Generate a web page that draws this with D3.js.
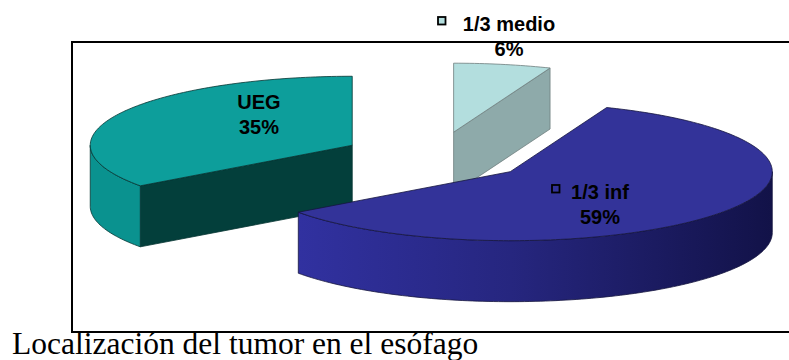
<!DOCTYPE html>
<html>
<head>
<meta charset="utf-8">
<script src="https://cdn.jsdelivr.net/npm/d3@7/dist/d3.min.js"></script>
<style>
  html, body { margin: 0; padding: 0; background: #fff; }
  svg { display: block; }
</style>
</head>
<body>
<svg id="chart" width="789" height="360"></svg>
<script>
// ---- data ----
const categories = ["1/3 medio", "1/3 inf", "UEG"];
const values = [6, 59, 35];
const pctLabels = ["6%", "59%", "35%"];
const title = "Localización del tumor en el esófago";

// ---- styles / layout ----
const topColors  = ["#B3DEDE", "#333399", "#0D9E9B"];
const cutColors  = ["#8EAAAA", "#1E1E70", "#033F3B"];
const wallColors = ["#8EAAAA", "#2E2E98", "#0A928F"];
const strokeColors = ["#6F7D7D", "#15153F", "#063532"];
const labelPos = [
  {x: 509, y: 31, markerX: 437},
  {x: 600, y: 199, markerX: 551},
  {x: 259, y: 109, markerX: null}
];

const cx = 436, cy = 156.5, rx = 262, ry = 69, depth = 61, explode = 94;
const k = ry / rx;

const svg = d3.select("#chart");
const defs = svg.append("defs");
const grad = defs.append("linearGradient").attr("id", "blueWall")
  .attr("gradientUnits", "userSpaceOnUse").attr("x1", 298).attr("x2", 772).attr("y1", 0).attr("y2", 0);
grad.append("stop").attr("offset", 0).attr("stop-color", "#3131A0");
grad.append("stop").attr("offset", 0.45).attr("stop-color", "#26267F");
grad.append("stop").attr("offset", 1).attr("stop-color", "#121248");

// frame
svg.append("rect").attr("x", 72).attr("y", 42).attr("width", 760).attr("height", 290)
  .attr("fill", "none").attr("stroke", "#000").attr("stroke-width", 2);

const pie = d3.pie().sort(null).value(d => d)(values);
const line = d3.line();

function pt(c, a, dz) { return [c[0] + rx * Math.sin(a), c[1] - ry * Math.cos(a) + (dz || 0)]; }
function arcPts(c, a0, a1, dz) {
  const n = Math.max(2, Math.ceil(Math.abs(a1 - a0) / 0.02));
  return d3.range(n + 1).map(i => pt(c, a0 + (a1 - a0) * i / n, dz));
}

const slices = pie.map((p, i) => {
  const m = (p.startAngle + p.endAngle) / 2;
  const c = [cx + explode * Math.sin(m), cy - explode * k * Math.cos(m)];
  return {p, i, c};
});

// paint order: back slices first
const order = [0, 2, 1];
order.forEach(i => {
  const {p, c} = slices[i];
  const g = svg.append("g");
  const a0 = p.startAngle, a1 = p.endAngle;
  const sc = strokeColors[i];
  // visible radial cut faces
  [a0, a1].forEach((a, j) => {
    const ndy = j === 0 ? -Math.sin(a) : Math.sin(a);
    if (ndy > 1e-6) {
      const e = pt(c, a);
      const poly = [c, e, [e[0], e[1] + depth], [c[0], c[1] + depth]];
      g.append("path").attr("d", line(poly) + "Z")
        .attr("fill", cutColors[i]).attr("stroke", sc).attr("stroke-width", 0.8).attr("stroke-linejoin", "round");
    }
  });
  // outer wall on the front half
  const w0 = Math.max(a0, Math.PI / 2), w1 = Math.min(a1, 3 * Math.PI / 2);
  if (w1 > w0) {
    const top = arcPts(c, w0, w1, 0);
    const bot = arcPts(c, w1, w0, depth);
    g.append("path").attr("d", line(top.concat(bot)) + "Z")
      .attr("fill", i === 1 ? "url(#blueWall)" : wallColors[i])
      .attr("stroke", sc).attr("stroke-width", 0.8).attr("stroke-linejoin", "round");
  }
  // top face
  const topPts = [c].concat(arcPts(c, a0, a1, 0));
  g.append("path").attr("d", line(topPts) + "Z")
    .attr("fill", topColors[i]).attr("stroke", sc).attr("stroke-width", 0.8).attr("stroke-linejoin", "round");
});

// labels
const font = "Liberation Sans, Arial, sans-serif";
labelPos.forEach((lp, i) => {
  svg.append("text").attr("x", lp.x).attr("y", lp.y)
    .attr("text-anchor", "middle").attr("font-family", font).attr("font-weight", "bold")
    .attr("font-size", 20).attr("fill", "#000").text(categories[i]);
  svg.append("text").attr("x", lp.x).attr("y", lp.y + 24.5)
    .attr("text-anchor", "middle").attr("font-family", font).attr("font-weight", "bold")
    .attr("font-size", 20).attr("fill", "#000").text(pctLabels[i]);
  if (lp.markerX !== null) {
    svg.append("rect").attr("x", lp.markerX + 1).attr("y", lp.y - 14).attr("width", 7.5).attr("height", 7.5)
      .attr("fill", topColors[i]).attr("stroke", "#000").attr("stroke-width", 1.8);
  }
});

svg.append("text").attr("x", 12).attr("y", 354)
  .attr("font-family", "Liberation Serif, Times New Roman, serif").attr("font-size", 31.5)
  .attr("fill", "#000").text(title);
</script>
</body>
</html>
